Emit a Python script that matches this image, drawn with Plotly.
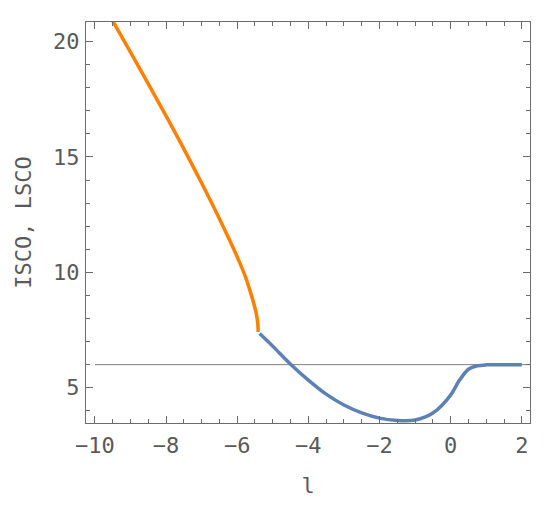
import plotly.graph_objects as go

# Orange branch (LSCO)
l_orange = [-9.6, -9.0, -8.5, -8.0, -7.5, -7.0, -6.5, -6.0, -5.75, -5.65, -5.55, -5.48, -5.44, -5.42, -5.41]
r_orange = [21.17, 19.54, 18.17, 16.78, 15.35, 13.87, 12.32, 10.67, 9.73, 9.25, 8.74, 8.33, 8.0, 7.74, 7.42]

# Blue branch (ISCO)
l_blue = [-5.37, -5.0, -4.5, -4.0, -3.5, -3.0, -2.5, -2.0, -1.5, -1.0, -0.5,
          0.0, 0.25, 0.5, 0.75, 1.0, 1.5, 2.0]
r_blue = [7.35, 6.80, 6.02, 5.33, 4.72, 4.25, 3.91, 3.68, 3.58, 3.60, 3.90,
          4.68, 5.33, 5.80, 5.95, 5.99, 6.0, 6.0]

# Reference line r = 6
l_ref = [-10.0, 2.3]
r_ref = [6, 6]

x_range = [-10.25, 2.23]
y_range = [3.47, 20.85]

axis_color = "#6b6b6b"
text_color = "#595959"
font_family = "DejaVu Sans Mono, monospace"
fsize = 22

fig = go.Figure()
fig.add_trace(go.Scatter(x=l_ref, y=r_ref, mode="lines",
                         line=dict(color="#808080", width=1), showlegend=False))
fig.add_trace(go.Scatter(x=l_orange, y=r_orange, mode="lines",
                         line=dict(color="#FF7F00", width=3.5, shape="spline", smoothing=0.9),
                         showlegend=False))
fig.add_trace(go.Scatter(x=l_blue, y=r_blue, mode="lines",
                         line=dict(color="#5E81B5", width=3.5, shape="spline", smoothing=0.8),
                         showlegend=False))

common = dict(showgrid=False, zeroline=False, showline=True, linecolor=axis_color,
              linewidth=1.3, mirror="allticks", ticks="inside", tickcolor=axis_color,
              tickwidth=1.2, ticklen=7,
              tickfont=dict(family=font_family, size=fsize, color=text_color))

fig.update_xaxes(range=x_range, tick0=0, dtick=2, **common,
                 minor=dict(dtick=0.5, tick0=0, ticks="inside", ticklen=4,
                            tickcolor=axis_color, tickwidth=1),
                 ticklabelstandoff=2,
                 title=dict(text="l", font=dict(family=font_family, size=fsize, color=text_color),
                            standoff=21))
fig.update_yaxes(range=y_range, tick0=0, dtick=5, **common,
                 minor=dict(dtick=1, tick0=0, ticks="inside", ticklen=4,
                            tickcolor=axis_color, tickwidth=1),
                 ticklabelstandoff=1,
                 title=dict(text="ISCO, LSCO", font=dict(family=font_family, size=fsize, color=text_color),
                            standoff=15))

fig.update_layout(width=550, height=511,
                  margin=dict(l=78, r=27.5, t=14, b=96),
                  plot_bgcolor="white", paper_bgcolor="white")

fig.write_html("out.html")
